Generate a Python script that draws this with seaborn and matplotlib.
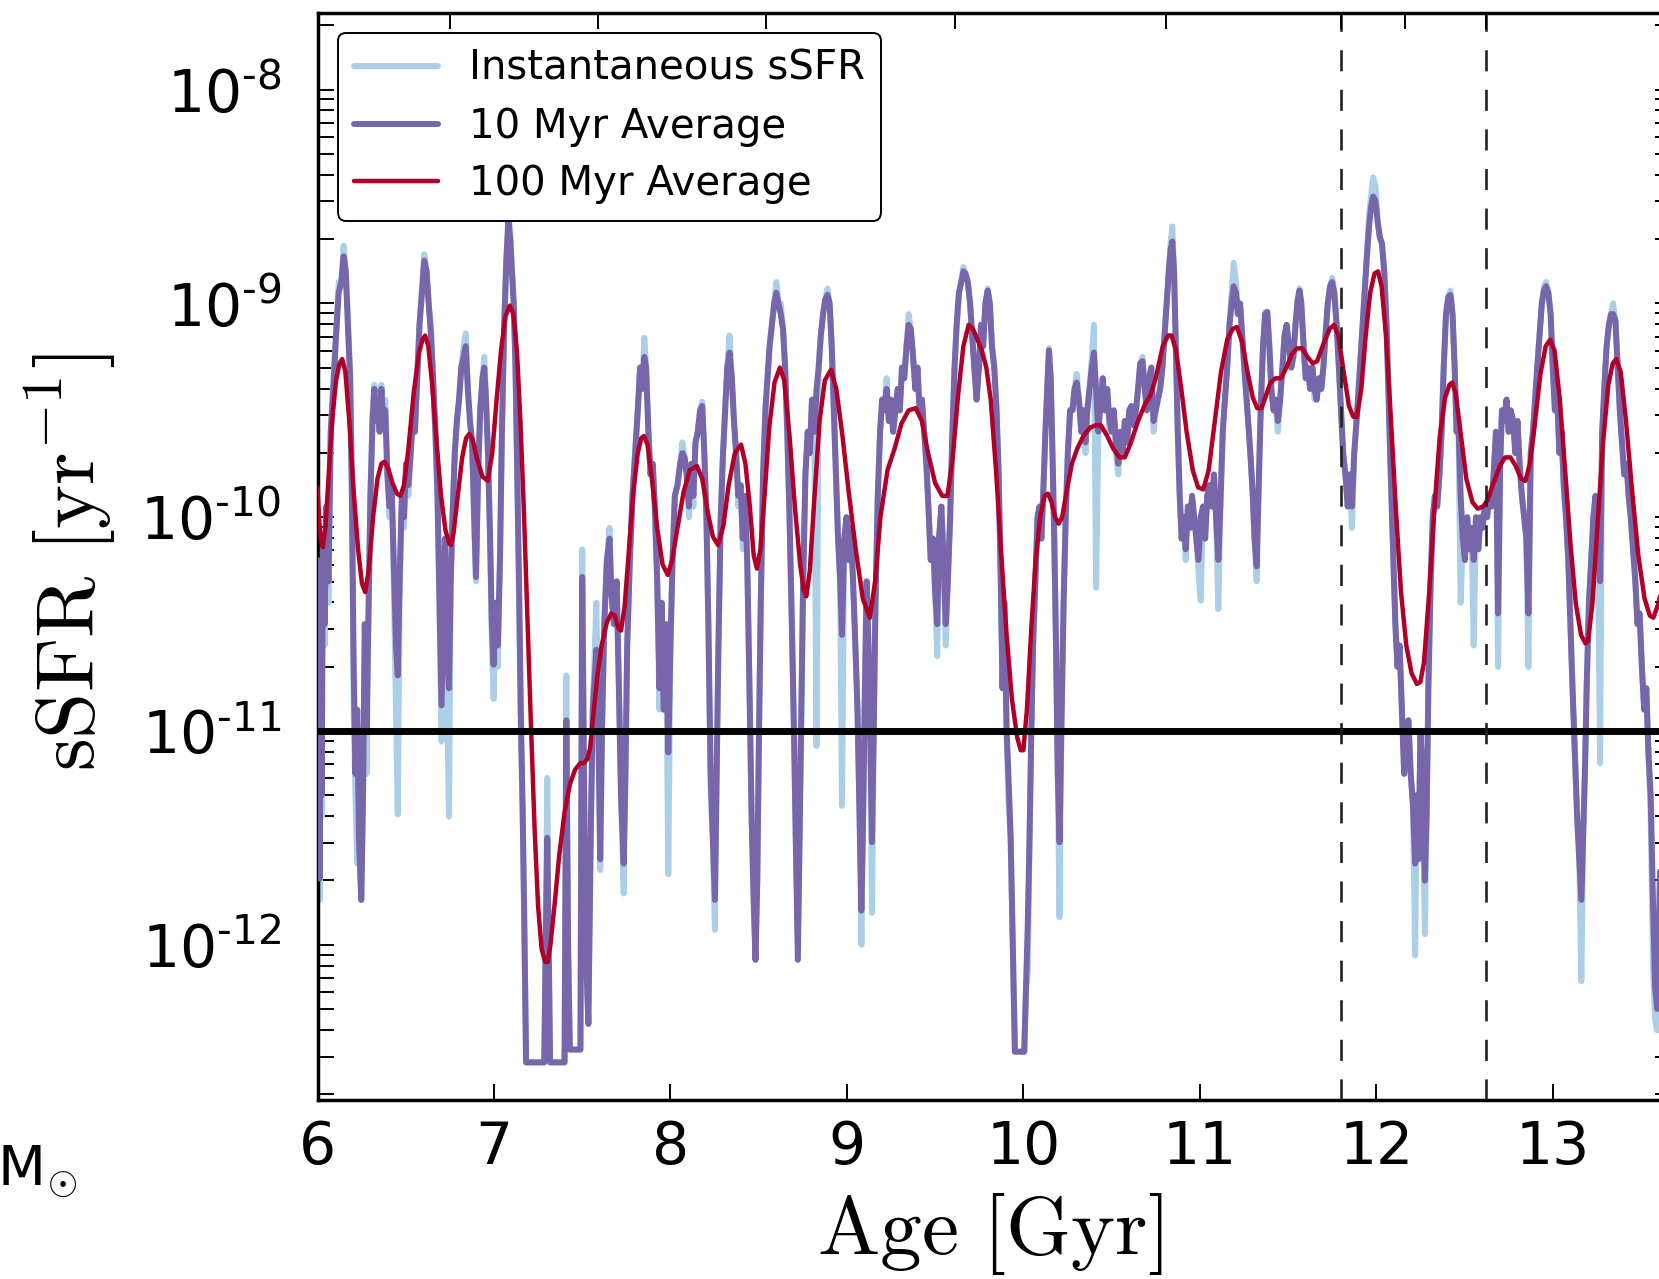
import matplotlib
matplotlib.use("Agg")
import matplotlib.pyplot as plt
from matplotlib.ticker import FixedLocator, LogLocator, NullFormatter
import seaborn as sns
import numpy as np

sns.set_theme(style="ticks")
plt.rcParams["font.family"] = ["DejaVu Sans"]
plt.rcParams["mathtext.fontset"] = "cm"
plt.rcParams["text.color"] = "black"
plt.rcParams["axes.labelcolor"] = "black"
plt.rcParams["xtick.color"] = "black"
plt.rcParams["ytick.color"] = "black"

# ---------------- data ----------------
# ages [Gyr] of the vertices of the 10 Myr / instantaneous traces
age_fine = [
    # 6.0 - 7.18
    6.000, 6.006, 6.012, 6.018, 6.024, 6.030, 6.040, 6.050, 6.062, 6.075,
    6.090, 6.105, 6.120, 6.135, 6.148, 6.160, 6.172, 6.185, 6.195, 6.205,
    6.215, 6.225, 6.235, 6.248, 6.258, 6.268, 6.278, 6.290, 6.300, 6.312,
    6.322, 6.332, 6.342, 6.352, 6.362, 6.372, 6.384, 6.396, 6.408, 6.420,
    6.432, 6.445, 6.455, 6.465, 6.478, 6.490, 6.502, 6.515, 6.528, 6.540,
    6.552, 6.565, 6.578, 6.592, 6.605, 6.618, 6.630, 6.643, 6.655, 6.668,
    6.680, 6.692, 6.703, 6.712, 6.722, 6.732, 6.745, 6.755, 6.765, 6.778,
    6.790, 6.802, 6.815, 6.828, 6.840, 6.852, 6.864, 6.876, 6.888, 6.898,
    6.910, 6.922, 6.935, 6.945, 6.955, 6.966, 6.978, 6.988, 6.998, 7.010,
    7.022, 7.034, 7.045, 7.058, 7.070, 7.082, 7.092, 7.102, 7.112, 7.122,
    7.132, 7.142, 7.152, 7.162, 7.172, 7.182,
    # 7.28 - 7.75
    7.285, 7.295, 7.302, 7.310, 7.318, 7.400, 7.410, 7.420, 7.430, 7.490,
    7.500, 7.510, 7.520, 7.535, 7.548, 7.560, 7.580, 7.592, 7.602, 7.612,
    7.625, 7.640, 7.655, 7.665, 7.680, 7.695, 7.708, 7.720, 7.735, 7.745,
    # 7.75 - 9.75
    7.755, 7.770, 7.785, 7.800, 7.815, 7.828, 7.840, 7.852, 7.862, 7.875,
    7.887, 7.900, 7.912, 7.925, 7.938, 7.950, 7.962, 7.975, 7.988, 8.000,
    8.012, 8.025, 8.040, 8.055, 8.068, 8.080, 8.092, 8.105, 8.118, 8.130,
    8.142, 8.155, 8.168, 8.180, 8.192, 8.204, 8.215, 8.228, 8.240, 8.252,
    8.262, 8.272, 8.285, 8.298, 8.310, 8.322, 8.335, 8.348, 8.360, 8.372,
    8.385, 8.398, 8.410, 8.422, 8.435, 8.448, 8.460, 8.472, 8.482, 8.492,
    8.502, 8.512, 8.525, 8.538, 8.550, 8.562, 8.575, 8.588, 8.600, 8.612,
    8.625, 8.638, 8.650, 8.662, 8.675, 8.688, 8.700, 8.712, 8.722, 8.732,
    8.742, 8.752, 8.765, 8.778, 8.790, 8.802, 8.815, 8.828, 8.840, 8.852,
    8.865, 8.878, 8.890, 8.902, 8.914, 8.926, 8.938, 8.950, 8.962, 8.972,
    8.985, 8.998, 9.010, 9.022, 9.035, 9.048, 9.060, 9.072, 9.082, 9.092,
    9.102, 9.112, 9.122, 9.132, 9.142, 9.152, 9.162, 9.175, 9.188, 9.200,
    9.212, 9.225, 9.238, 9.250, 9.262, 9.275, 9.288, 9.300, 9.312, 9.325,
    9.338, 9.350, 9.362, 9.375, 9.388, 9.400, 9.412, 9.425, 9.438, 9.450,
    9.462, 9.475, 9.488, 9.500, 9.512, 9.522, 9.535, 9.548, 9.560, 9.572,
    9.585, 9.598, 9.610, 9.622, 9.635, 9.648, 9.660, 9.672, 9.685, 9.698,
    9.710, 9.722, 9.735, 9.748,
    # 9.76 - 10.90
    9.760, 9.772, 9.785, 9.798, 9.810, 9.822, 9.835, 9.848, 9.860, 9.872,
    9.882, 9.892, 9.905, 9.915, 9.928, 9.940, 9.952, 10.005, 10.015, 10.025,
    10.035, 10.045, 10.055, 10.068, 10.080, 10.092, 10.102, 10.112, 10.125, 10.135,
    10.145, 10.155, 10.165, 10.175, 10.185, 10.195, 10.205, 10.215, 10.228, 10.240,
    10.252, 10.265, 10.278, 10.290, 10.302, 10.315, 10.328, 10.340, 10.352, 10.362,
    10.375, 10.388, 10.400, 10.412, 10.425, 10.438, 10.450, 10.462, 10.475, 10.488,
    10.500, 10.512, 10.525, 10.538, 10.550, 10.562, 10.575, 10.588, 10.600, 10.612,
    10.625, 10.638, 10.650, 10.662, 10.675, 10.688, 10.700, 10.712, 10.725, 10.738,
    10.750, 10.762, 10.775, 10.788, 10.800, 10.812, 10.824, 10.834, 10.844, 10.854,
    10.864, 10.875, 10.886, 10.897,
    # 10.91 - 12.31
    10.908, 10.920, 10.932, 10.944, 10.956, 10.968, 10.980, 10.992, 11.005, 11.018,
    11.030, 11.042, 11.055, 11.068, 11.080, 11.092, 11.105, 11.118, 11.130, 11.142,
    11.155, 11.168, 11.180, 11.192, 11.205, 11.215, 11.228, 11.240, 11.252, 11.265,
    11.278, 11.290, 11.300, 11.310, 11.322, 11.332, 11.345, 11.358, 11.370, 11.382,
    11.394, 11.405, 11.418, 11.430, 11.442, 11.455, 11.468, 11.480, 11.492, 11.505,
    11.518, 11.530, 11.542, 11.555, 11.565, 11.575, 11.588, 11.600, 11.612, 11.625,
    11.638, 11.650, 11.662, 11.675, 11.688, 11.700, 11.712, 11.725, 11.738, 11.750,
    11.762, 11.775, 11.788, 11.800, 11.812, 11.825, 11.838, 11.850, 11.862, 11.875,
    11.888, 11.900, 11.915, 11.930, 11.945, 11.958, 11.970, 11.982, 11.995, 12.008,
    12.020, 12.032, 12.045, 12.058, 12.070, 12.082, 12.095, 12.108, 12.120, 12.132,
    12.145, 12.158, 12.170, 12.182, 12.195, 12.208, 12.220, 12.230, 12.240, 12.250,
    12.262, 12.275, 12.285, 12.295, 12.308,
    # 12.32 - 13.67
    12.320, 12.332, 12.345, 12.358, 12.370, 12.382, 12.395, 12.408, 12.420, 12.432,
    12.444, 12.455, 12.465, 12.478, 12.490, 12.502, 12.515, 12.528, 12.540, 12.552,
    12.565, 12.578, 12.590, 12.602, 12.615, 12.628, 12.640, 12.652, 12.665, 12.678,
    12.690, 12.702, 12.712, 12.725, 12.738, 12.750, 12.762, 12.775, 12.788, 12.800,
    12.812, 12.825, 12.838, 12.850, 12.862, 12.875, 12.888, 12.900, 12.912, 12.925,
    12.938, 12.950, 12.962, 12.975, 12.988, 13.000, 13.012, 13.025, 13.038, 13.050,
    13.062, 13.075, 13.088, 13.100, 13.112, 13.125, 13.138, 13.150, 13.162, 13.172,
    13.182, 13.192, 13.205, 13.218, 13.230, 13.242, 13.255, 13.268, 13.280, 13.292,
    13.305, 13.318, 13.330, 13.342, 13.355, 13.368, 13.380, 13.392, 13.405, 13.418,
    13.430, 13.442, 13.455, 13.468, 13.480, 13.492, 13.505, 13.518, 13.530, 13.542,
    13.555, 13.568, 13.580, 13.592, 13.605, 13.620, 13.640, 13.670,
]

# log10 sSFR [1/yr], 10 Myr average
log_ssfr_10myr = [
    -10.20, -11.00, -11.69, -10.60, -11.30, -10.10, -10.50, -9.95, -10.30, -9.60,
    -9.40, -9.15, -8.95, -8.90, -8.78, -8.85, -9.10, -9.35, -9.90, -10.70,
    -11.20, -10.90, -11.50, -11.79, -11.30, -10.50, -11.00, -10.40, -9.90, -9.55,
    -9.40, -9.55, -9.45, -9.60, -9.40, -9.55, -9.50, -9.80, -9.95, -9.85,
    -10.20, -10.60, -10.74, -10.30, -9.90, -10.00, -9.75, -9.85, -9.70, -9.55,
    -9.60, -9.35, -9.10, -8.95, -8.80, -8.85, -9.00, -9.15, -9.35, -9.60,
    -9.90, -10.40, -10.88, -10.50, -10.10, -10.60, -10.80, -10.30, -10.00, -9.70,
    -9.55, -9.45, -9.30, -9.25, -9.20, -9.40, -9.55, -9.65, -10.00, -10.28,
    -9.80, -9.50, -9.35, -9.30, -9.45, -9.70, -10.10, -10.50, -10.69, -10.40,
    -10.60, -10.20, -9.60, -9.10, -8.80, -8.61, -8.70, -8.85, -9.00, -9.30,
    -9.80, -10.30, -10.90, -11.35, -11.90, -12.55,
    -12.55, -11.90, -11.50, -12.00, -12.55, -12.55, -10.95, -12.00, -12.49, -12.49,
    -10.28, -11.20, -12.00, -12.37, -11.50, -10.90, -10.62, -11.00, -11.60, -11.00,
    -10.50, -10.20, -10.10, -10.35, -10.50, -10.30, -10.80, -11.30, -11.62, -11.20,
    -10.60, -10.20, -9.90, -9.70, -9.50, -9.30, -9.40, -9.25, -9.30, -9.60,
    -9.80, -9.75, -9.95, -10.30, -10.80, -10.40, -10.90, -10.50, -11.10, -10.60,
    -10.20, -9.90, -9.85, -9.75, -9.70, -9.72, -9.80, -9.95, -9.75, -9.90,
    -9.65, -9.60, -9.50, -9.48, -9.70, -10.00, -10.50, -11.20, -11.50, -11.79,
    -11.20, -10.60, -10.00, -9.70, -9.50, -9.30, -9.23, -9.35, -9.55, -9.70,
    -9.90, -9.85, -10.10, -9.90, -10.20, -10.80, -11.40, -11.80, -12.07, -11.70,
    -11.00, -10.40, -9.80, -9.50, -9.35, -9.20, -9.10, -9.00, -8.95, -9.00,
    -9.05, -9.12, -9.30, -9.60, -10.00, -10.50, -11.00, -11.60, -12.07, -11.50,
    -10.90, -10.30, -9.80, -9.60, -9.70, -9.45, -9.60, -9.40, -9.30, -9.15,
    -9.05, -8.98, -8.96, -9.00, -9.20, -9.50, -9.80, -10.10, -10.30, -10.55,
    -10.10, -10.00, -10.20, -10.05, -10.30, -10.60, -10.90, -11.40, -11.84, -11.40,
    -10.80, -10.30, -10.60, -11.00, -11.52, -11.00, -10.40, -9.90, -9.60, -9.45,
    -9.50, -9.40, -9.55, -9.45, -9.60, -9.50, -9.40, -9.50, -9.30, -9.35,
    -9.20, -9.10, -9.12, -9.25, -9.40, -9.30, -9.50, -9.45, -9.60, -9.75,
    -9.95, -10.20, -10.10, -10.35, -10.50, -10.10, -9.95, -10.20, -10.50, -10.30,
    -10.00, -9.60, -9.30, -9.10, -8.95, -8.90, -8.85, -8.86, -8.90, -9.00,
    -9.15, -9.30, -9.45, -9.30,
    -9.10, -9.20, -9.00, -8.94, -9.00, -9.20, -9.30, -9.50, -9.80, -10.30,
    -10.80, -10.40, -11.00, -11.20, -11.50, -12.00, -12.50, -12.50, -12.20, -11.90,
    -11.50, -11.00, -10.60, -10.30, -10.00, -9.95, -10.10, -9.90, -9.60, -9.40,
    -9.22, -9.35, -9.70, -10.10, -10.60, -11.20, -11.52, -11.00, -10.40, -10.00,
    -9.70, -9.50, -9.50, -9.40, -9.37, -9.45, -9.60, -9.50, -9.65, -9.50,
    -9.40, -9.30, -9.23, -9.40, -9.60, -9.45, -9.35, -9.50, -9.40, -9.55,
    -9.60, -9.50, -9.65, -9.75, -9.60, -9.70, -9.55, -9.65, -9.50, -9.48,
    -9.57, -9.50, -9.40, -9.28, -9.27, -9.40, -9.50, -9.35, -9.30, -9.55,
    -9.50, -9.45, -9.40, -9.30, -9.15, -9.00, -8.85, -8.75, -8.71, -8.85,
    -9.20, -9.60, -9.90, -10.10,
    -10.00, -10.15, -9.95, -10.05, -9.90, -10.00, -10.10, -10.20, -10.00, -9.95,
    -10.10, -9.90, -9.85, -9.95, -9.80, -10.00, -10.20, -9.90, -9.60, -9.45,
    -9.30, -9.10, -9.00, -8.92, -8.95, -9.05, -9.00, -9.15, -9.30, -9.45,
    -9.60, -9.75, -9.90, -10.10, -10.23, -9.90, -9.50, -9.20, -9.05, -9.04,
    -9.20, -9.40, -9.50, -9.45, -9.55, -9.45, -9.30, -9.15, -9.10, -9.20,
    -9.30, -9.25, -9.10, -8.98, -8.94, -9.00, -9.20, -9.35, -9.30, -9.40,
    -9.30, -9.40, -9.45, -9.35, -9.40, -9.30, -9.15, -9.00, -8.92, -8.90,
    -8.95, -9.10, -9.30, -9.50, -9.70, -9.80, -9.95, -9.80, -9.95, -9.70,
    -9.55, -9.40, -9.20, -9.00, -8.80, -8.65, -8.55, -8.50, -8.52, -8.62,
    -8.69, -8.72, -8.85, -9.10, -9.45, -9.80, -10.15, -10.50, -10.70, -10.60,
    -10.90, -11.20, -11.00, -10.95, -11.20, -11.35, -11.62, -11.30, -11.60, -11.00,
    -11.20, -11.70, -11.40, -10.80, -10.30,
    -10.00, -9.90, -9.95, -9.80, -9.60, -9.30, -9.05, -8.97, -8.96, -9.05,
    -9.30, -9.60, -9.55, -9.90, -10.10, -10.20, -10.00, -10.15, -10.05, -10.20,
    -10.00, -10.15, -10.00, -10.05, -9.95, -10.00, -9.90, -9.95, -9.80, -9.60,
    -10.45, -9.75, -9.50, -9.55, -9.45, -9.60, -9.50, -9.55, -9.70, -9.55,
    -9.75, -9.90, -10.00, -10.10, -10.45, -9.70, -9.60, -9.45, -9.30, -9.15,
    -9.00, -8.94, -8.92, -8.95, -9.05, -9.30, -9.50, -9.45, -9.70, -9.60,
    -9.85, -10.00, -10.20, -10.50, -10.80, -11.10, -11.40, -11.60, -11.79, -11.50,
    -11.20, -10.80, -10.40, -10.20, -10.00, -9.90, -10.05, -10.30, -9.60, -9.40,
    -9.20, -9.10, -9.05, -9.05, -9.08, -9.30, -9.50, -9.65, -9.80, -9.75,
    -9.90, -10.00, -10.15, -10.30, -10.50, -10.45, -10.70, -10.90, -10.80, -11.10,
    -11.30, -11.80, -12.20, -12.30, -11.80, -11.00, -10.50, -10.30,
]

# log10 sSFR [1/yr], instantaneous
log_ssfr_inst = [
    -10.20, -11.10, -11.79, -10.60, -11.40, -10.10, -10.60, -9.95, -10.40, -9.60,
    -9.35, -9.15, -8.90, -8.90, -8.73, -8.85, -9.05, -9.35, -9.90, -10.90,
    -11.30, -11.62, -11.50, -11.79, -11.30, -10.50, -11.20, -10.40, -9.90, -9.50,
    -9.38, -9.55, -9.40, -9.60, -9.38, -9.55, -9.45, -9.80, -10.00, -9.85,
    -10.30, -10.90, -11.39, -10.40, -9.90, -10.05, -9.75, -9.90, -9.70, -9.50,
    -9.60, -9.35, -9.10, -8.92, -8.77, -8.85, -9.00, -9.10, -9.35, -9.60,
    -9.90, -10.50, -11.05, -10.50, -10.10, -10.70, -11.40, -10.30, -10.00, -9.70,
    -9.55, -9.45, -9.30, -9.20, -9.14, -9.40, -9.55, -9.65, -10.05, -10.30,
    -9.80, -9.50, -9.35, -9.25, -9.45, -9.70, -10.10, -10.60, -10.85, -10.40,
    -10.70, -10.20, -9.60, -9.10, -8.80, -8.59, -8.66, -8.85, -9.00, -9.30,
    -9.80, -10.40, -11.00, -11.35, -11.90, -12.55,
    -12.55, -11.80, -11.22, -12.00, -12.55, -12.55, -10.74, -12.00, -12.49, -12.49,
    -10.15, -11.20, -12.00, -12.37, -11.50, -10.90, -10.40, -11.00, -11.65, -11.00,
    -10.50, -10.20, -10.05, -10.35, -10.50, -10.30, -10.80, -11.30, -11.76, -11.20,
    -10.60, -10.20, -9.90, -9.70, -9.50, -9.30, -9.40, -9.16, -9.30, -9.60,
    -9.80, -9.75, -10.00, -10.30, -10.90, -10.40, -10.90, -10.50, -11.67, -10.60,
    -10.20, -9.90, -9.85, -9.75, -9.65, -9.72, -9.80, -10.00, -9.75, -9.95,
    -9.65, -9.60, -9.50, -9.46, -9.70, -10.00, -10.50, -11.30, -11.50, -11.93,
    -11.20, -10.60, -10.00, -9.70, -9.50, -9.30, -9.15, -9.35, -9.55, -9.70,
    -9.95, -9.85, -10.15, -9.90, -10.20, -10.80, -11.40, -11.80, -12.07, -11.70,
    -11.00, -10.40, -9.80, -9.50, -9.35, -9.20, -9.10, -9.00, -8.90, -9.00,
    -9.00, -9.12, -9.30, -9.60, -10.00, -10.50, -11.00, -11.60, -11.95, -11.50,
    -10.90, -10.30, -9.80, -9.60, -9.70, -9.45, -9.60, -11.07, -9.30, -9.15,
    -9.05, -8.98, -8.93, -9.00, -9.20, -9.50, -9.80, -10.10, -10.30, -11.35,
    -10.10, -10.00, -10.20, -10.05, -10.30, -10.60, -10.90, -11.40, -12.00, -11.40,
    -10.80, -10.30, -10.60, -11.00, -11.85, -11.00, -10.40, -9.90, -9.60, -9.45,
    -9.50, -9.35, -9.55, -9.45, -9.60, -9.50, -9.40, -9.50, -9.30, -9.35,
    -9.20, -9.05, -9.12, -9.25, -9.40, -9.30, -9.50, -9.45, -9.60, -9.75,
    -9.95, -10.20, -10.10, -10.35, -10.65, -10.10, -9.95, -10.20, -10.60, -10.30,
    -10.00, -9.60, -9.30, -9.10, -8.95, -8.90, -8.83, -8.86, -8.90, -9.00,
    -9.15, -9.30, -9.45, -9.30,
    -9.10, -9.20, -9.00, -8.93, -9.00, -9.20, -9.30, -9.50, -9.80, -10.30,
    -10.80, -10.40, -11.00, -11.32, -11.50, -12.00, -12.50, -12.50, -12.20, -12.14,
    -11.50, -11.00, -10.60, -10.30, -10.00, -9.95, -10.10, -9.90, -9.60, -9.40,
    -9.21, -9.35, -9.70, -10.10, -10.60, -11.20, -11.87, -11.00, -10.40, -10.00,
    -9.70, -9.50, -9.50, -9.40, -9.33, -9.45, -9.60, -9.50, -9.70, -9.50,
    -9.40, -9.25, -9.10, -10.33, -9.60, -9.45, -9.35, -9.50, -9.40, -9.60,
    -9.60, -9.50, -9.70, -9.80, -9.60, -9.70, -9.55, -9.65, -9.50, -9.48,
    -9.57, -9.50, -9.40, -9.28, -9.25, -9.40, -9.50, -9.35, -9.30, -9.60,
    -9.50, -9.45, -9.40, -9.30, -9.15, -9.00, -8.85, -8.72, -8.64, -8.85,
    -9.20, -9.60, -9.90, -10.10,
    -10.00, -10.20, -9.95, -10.05, -9.90, -10.00, -10.10, -10.25, -10.39, -9.95,
    -10.10, -9.90, -9.85, -9.95, -9.80, -10.00, -10.43, -9.90, -9.60, -9.45,
    -9.30, -9.10, -8.95, -8.81, -8.90, -9.05, -9.00, -9.15, -9.30, -9.45,
    -9.60, -9.75, -9.90, -10.10, -10.30, -9.90, -9.50, -9.20, -9.04, -9.04,
    -9.20, -9.40, -9.50, -9.45, -9.60, -9.45, -9.30, -9.15, -9.10, -9.20,
    -9.30, -9.25, -9.10, -8.98, -8.93, -9.00, -9.20, -9.35, -9.30, -9.40,
    -9.30, -9.45, -9.45, -9.35, -9.40, -9.30, -9.15, -9.00, -8.92, -8.88,
    -8.95, -9.10, -9.30, -9.50, -9.70, -9.80, -9.95, -9.80, -10.05, -9.70,
    -9.55, -9.40, -9.20, -9.00, -8.80, -8.60, -8.50, -8.41, -8.45, -8.62,
    -8.69, -8.72, -8.85, -9.10, -9.45, -9.80, -10.15, -10.50, -10.70, -10.60,
    -10.90, -11.20, -11.00, -10.95, -11.20, -11.35, -12.05, -11.30, -11.60, -11.00,
    -11.20, -11.95, -11.40, -10.80, -10.30,
    -10.00, -9.90, -9.95, -9.80, -9.60, -9.30, -9.05, -8.97, -8.94, -9.05,
    -9.30, -9.60, -9.55, -10.40, -10.10, -10.20, -10.00, -10.15, -10.05, -10.60,
    -10.00, -10.15, -10.00, -10.05, -9.95, -10.00, -9.90, -9.95, -9.80, -9.60,
    -10.70, -9.75, -9.50, -9.55, -9.45, -9.60, -9.50, -9.55, -9.70, -9.55,
    -9.75, -9.90, -10.00, -10.10, -10.70, -9.70, -9.60, -9.45, -9.30, -9.15,
    -9.00, -8.92, -8.90, -8.95, -9.05, -9.30, -9.50, -9.45, -9.70, -9.60,
    -9.85, -10.00, -10.20, -10.50, -10.80, -11.10, -11.40, -11.60, -12.17, -11.50,
    -11.20, -10.80, -10.40, -10.20, -10.00, -9.90, -10.05, -11.15, -9.60, -9.40,
    -9.20, -9.10, -9.05, -9.00, -9.08, -9.30, -9.50, -9.65, -9.80, -9.75,
    -9.90, -10.00, -10.15, -10.30, -10.50, -10.45, -10.70, -10.90, -10.80, -11.10,
    -11.40, -12.10, -12.35, -12.40, -11.80, -11.00, -10.50, -10.30,
]

# 100 Myr average
age_100myr = [
    6.000, 6.010, 6.020, 6.030, 6.045, 6.065, 6.085, 6.105, 6.125, 6.140,
    6.158, 6.180, 6.205, 6.230, 6.252, 6.270, 6.290, 6.315, 6.340, 6.362,
    6.380, 6.400, 6.425, 6.450, 6.470, 6.490, 6.515, 6.545, 6.575, 6.595,
    6.610, 6.628, 6.650, 6.675, 6.700, 6.725, 6.745, 6.755, 6.770, 6.795,
    6.820, 6.842, 6.860, 6.880, 6.905, 6.935, 6.965, 6.990, 7.015, 7.040,
    7.065, 7.090, 7.110, 7.130, 7.150, 7.170, 7.190, 7.210, 7.230, 7.250,
    7.270, 7.290, 7.305, 7.320, 7.345, 7.370, 7.400, 7.430, 7.460, 7.490,
    7.510, 7.530, 7.545, 7.560, 7.585, 7.610, 7.640, 7.665, 7.685, 7.705,
    7.720, 7.740, 7.765, 7.790, 7.815, 7.835, 7.850, 7.870, 7.895, 7.925,
    7.955, 7.985, 8.010, 8.040, 8.075, 8.110, 8.150, 8.180, 8.210, 8.240,
    8.270, 8.300, 8.330, 8.365, 8.400, 8.425, 8.450, 8.472, 8.490, 8.510,
    8.535, 8.560, 8.590, 8.620, 8.645, 8.675, 8.705, 8.735, 8.755, 8.770,
    8.790, 8.815, 8.845, 8.875, 8.910, 8.940, 8.975, 9.010, 9.050, 9.090,
    9.130, 9.160, 9.190, 9.230, 9.270, 9.310, 9.350, 9.390, 9.425, 9.460,
    9.500, 9.540, 9.570, 9.600, 9.630, 9.660, 9.690, 9.715, 9.740, 9.765,
    9.790, 9.815, 9.845, 9.875, 9.905, 9.935, 9.965, 9.985, 10.000, 10.020,
    10.045, 10.070, 10.095, 10.120, 10.140, 10.160, 10.180, 10.200, 10.220, 10.245,
    10.275, 10.305, 10.340, 10.380, 10.410, 10.440, 10.475, 10.510, 10.545, 10.575,
    10.610, 10.650, 10.690, 10.720, 10.750, 10.790, 10.820, 10.840, 10.865, 10.895,
    10.925, 10.960, 10.990, 11.020, 11.050, 11.085, 11.120, 11.155, 11.185, 11.210,
    11.240, 11.270, 11.300, 11.325, 11.350, 11.375, 11.400, 11.430, 11.460, 11.490,
    11.520, 11.550, 11.580, 11.610, 11.640, 11.665, 11.700, 11.735, 11.760, 11.785,
    11.815, 11.845, 11.870, 11.890, 11.915, 11.940, 11.965, 11.990, 12.010, 12.030,
    12.055, 12.080, 12.110, 12.140, 12.170, 12.200, 12.230, 12.250, 12.270, 12.300,
    12.330, 12.360, 12.390, 12.415, 12.430, 12.450, 12.480, 12.510, 12.545, 12.575,
    12.605, 12.630, 12.660, 12.700, 12.730, 12.760, 12.790, 12.820, 12.845, 12.870,
    12.900, 12.930, 12.960, 12.985, 13.010, 13.040, 13.070, 13.100, 13.130, 13.160,
    13.185, 13.200, 13.225, 13.255, 13.285, 13.315, 13.340, 13.360, 13.385, 13.415,
    13.450, 13.485, 13.520, 13.550, 13.570, 13.600, 13.630, 13.670,
]
log_ssfr_100myr = [
    -9.86, -10.02, -10.11, -10.14, -10.05, -9.78, -9.53, -9.36, -9.28, -9.26,
    -9.32, -9.55, -9.88, -10.15, -10.31, -10.35, -10.25, -10.00, -9.82, -9.75,
    -9.74, -9.77, -9.84, -9.89, -9.90, -9.85, -9.68, -9.42, -9.23, -9.17,
    -9.15, -9.20, -9.38, -9.65, -9.90, -10.06, -10.12, -10.13, -10.08, -9.90,
    -9.72, -9.63, -9.61, -9.64, -9.73, -9.81, -9.83, -9.70, -9.45, -9.22,
    -9.06, -9.01, -9.05, -9.22, -9.55, -9.98, -10.48, -10.98, -11.45, -11.82,
    -12.02, -12.08, -12.08, -12.00, -11.80, -11.58, -11.38, -11.25, -11.18, -11.15,
    -11.15, -11.13, -11.08, -10.95, -10.75, -10.60, -10.49, -10.45, -10.46, -10.52,
    -10.53, -10.42, -10.15, -9.88, -9.70, -9.63, -9.62, -9.66, -9.82, -10.05,
    -10.22, -10.27, -10.20, -10.05, -9.88, -9.78, -9.76, -9.82, -9.97, -10.09,
    -10.13, -10.04, -9.85, -9.70, -9.66, -9.75, -9.95, -10.18, -10.24, -10.15,
    -9.88, -9.58, -9.37, -9.30, -9.36, -9.62, -9.95, -10.22, -10.34, -10.37,
    -10.25, -9.92, -9.55, -9.36, -9.31, -9.40, -9.62, -9.88, -10.15, -10.38,
    -10.47, -10.30, -10.00, -9.78, -9.68, -9.56, -9.50, -9.49, -9.55, -9.70,
    -9.84, -9.90, -9.90, -9.72, -9.43, -9.20, -9.10, -9.12, -9.17, -9.22,
    -9.30, -9.45, -9.78, -10.18, -10.55, -10.85, -11.03, -11.09, -11.09, -10.90,
    -10.52, -10.20, -10.00, -9.90, -9.89, -9.93, -10.00, -10.03, -10.00, -9.88,
    -9.75, -9.68, -9.62, -9.58, -9.57, -9.57, -9.62, -9.68, -9.72, -9.72,
    -9.65, -9.55, -9.47, -9.43, -9.35, -9.20, -9.15, -9.15, -9.22, -9.40,
    -9.60, -9.78, -9.86, -9.87, -9.78, -9.55, -9.32, -9.17, -9.12, -9.11,
    -9.18, -9.32, -9.44, -9.49, -9.49, -9.43, -9.37, -9.35, -9.35, -9.30,
    -9.24, -9.21, -9.21, -9.25, -9.28, -9.27, -9.19, -9.12, -9.10, -9.15,
    -9.32, -9.48, -9.53, -9.53, -9.40, -9.15, -8.95, -8.86, -8.85, -8.92,
    -9.15, -9.50, -9.95, -10.35, -10.60, -10.73, -10.78, -10.77, -10.68, -10.35,
    -9.95, -9.62, -9.44, -9.38, -9.37, -9.42, -9.62, -9.82, -9.93, -9.96,
    -9.95, -9.92, -9.85, -9.76, -9.72, -9.72, -9.76, -9.82, -9.83, -9.75,
    -9.55, -9.33, -9.20, -9.17, -9.22, -9.45, -9.78, -10.12, -10.40, -10.55,
    -10.59, -10.58, -10.40, -10.02, -9.65, -9.38, -9.28, -9.26, -9.32, -9.55,
    -9.88, -10.18, -10.38, -10.46, -10.47, -10.40, -10.28, -10.10,
]

quench_level = 1e-11                 # horizontal threshold line
marker_ages = [11.80, 12.62]         # dashed vertical lines
top_tick_ages = [6.75, 7.59, 8.54, 9.61, 10.81, 11.80, 12.16, 12.62]
x_ticks = [6, 7, 8, 9, 10, 11, 12, 13]
y_exponents = [-12, -11, -10, -9, -8]

labels = ["Instantaneous sSFR", "10 Myr Average", "100 Myr Average"]
colors = ["#abcfe6", "#7766a9", "#b00028"]

# ---------------- figure ----------------
W, H = 1659, 1279
fig = plt.figure(figsize=(W / 100, H / 100), dpi=100)
ax_l, ax_r, ax_t, ax_b = 317.5, 1671.0, 12.7, 1100.0
ax = fig.add_axes([ax_l / W, 1 - ax_b / H, (ax_r - ax_l) / W, (ax_b - ax_t) / H])
ax.set_facecolor("white")
ax.set_yscale("log")

sns.lineplot(x=age_fine, y=np.power(10.0, log_ssfr_inst), ax=ax, color=colors[0],
             lw=4.3, estimator=None, sort=False, label=labels[0], zorder=2)
sns.lineplot(x=age_fine, y=np.power(10.0, log_ssfr_10myr), ax=ax, color=colors[1],
             lw=4.3, estimator=None, sort=False, label=labels[1], zorder=3)
sns.lineplot(x=age_100myr, y=np.power(10.0, log_ssfr_100myr), ax=ax, color=colors[2],
             lw=3.2, estimator=None, sort=False, label=labels[2], zorder=4)

ax.axhline(quench_level, color="black", lw=5, zorder=5)
for a in marker_ages:
    ax.axvline(a, color="#222222", lw=1.9, dashes=(8, 7), zorder=6)

ax.set_xlim(6.0, 13.67)
ax.set_ylim(10 ** -12.726, 10 ** -7.640)

ax.xaxis.set_major_locator(FixedLocator(x_ticks))
ax.set_xticklabels([str(t) for t in x_ticks])
ax.yaxis.set_major_locator(FixedLocator([10.0 ** e for e in y_exponents]))
ax.set_yticklabels([r"$\mathdefault{10^{" + "\u2010" + str(-e) + "}}$"
                    for e in y_exponents])
ax.yaxis.set_minor_locator(LogLocator(base=10, subs=np.arange(2, 10)))
ax.yaxis.set_minor_formatter(NullFormatter())

ax.tick_params(axis="both", which="both", direction="in", length=11.5, width=1.4,
               colors="black")
ax.tick_params(axis="x", which="both", top=False, bottom=True, labelsize=42, pad=14)
ax.tick_params(axis="y", which="both", left=True, right=True, labelsize=42, pad=26)
ax.set_xlabel("")
ax.set_ylabel("")
for s in ax.spines.values():
    s.set_linewidth(2.5)
    s.set_color("black")
    s.set_visible(True)

ax2 = ax.twiny()
ax2.set_xlim(ax.get_xlim())
ax2.xaxis.set_major_locator(FixedLocator(top_tick_ages))
ax2.tick_params(axis="x", which="major", direction="in", length=11.5, width=1.4,
                top=True, labeltop=False, bottom=False, labelbottom=False)
ax2.tick_params(axis="x", which="minor", top=False, bottom=False)
for s in ax2.spines.values():
    s.set_visible(False)

leg = ax.legend(loc="upper left", fontsize=29, frameon=True, fancybox=True,
                edgecolor="black", framealpha=1, handlelength=2.1,
                handletextpad=0.75, borderpad=0.4, labelspacing=0.44,
                borderaxespad=0.5, labelcolor="black")
leg.get_frame().set_linewidth(1.4)
leg.set_zorder(10)

fig.text(70 / W, 1 - 562 / H, r"$\mathrm{sSFR}\ [\mathrm{yr}^{-1}]$", rotation=90,
         ha="center", va="center", fontsize=60, color="black")
fig.text(990 / W, 1 - 1234 / H, r"$\mathrm{Age}\ [\mathrm{Gyr}]$",
         ha="center", va="center", fontsize=60, color="black")
fig.text(-3 / W, 1 - 1172 / H, r"M$_{\odot}$", ha="left", va="center",
         fontsize=40, color="black")

fig.savefig("out.png", dpi=100)
